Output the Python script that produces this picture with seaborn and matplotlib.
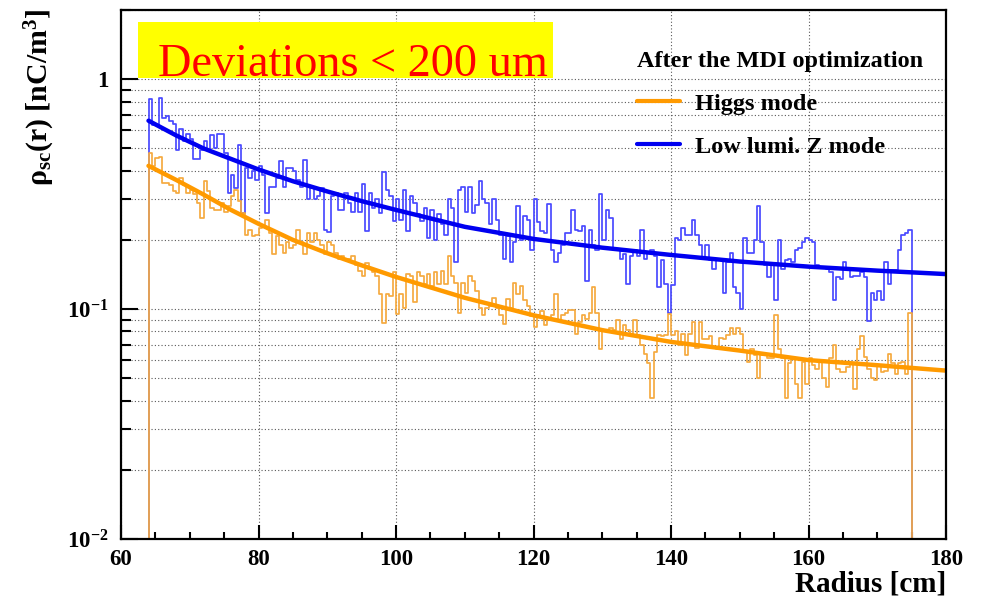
import numpy as np
import matplotlib
matplotlib.use("Agg")
import matplotlib.pyplot as plt
import seaborn as sns
from matplotlib.lines import Line2D
from matplotlib.patches import Rectangle
from matplotlib.ticker import MultipleLocator, FixedLocator, LogLocator, NullFormatter

# ---------------- data ----------------
bin_lo = 64.0
bin_width = 0.5

z_mode = [
    0.82, 0.63, 0.63, 0.83, 0.68, 0.69, 0.66, 0.64, 0.49, 0.61,
    0.54, 0.58, 0.55, 0.45, 0.45, 0.49, 0.54, 0.49, 0.57, 0.50,
    0.58, 0.58, 0.48, 0.32, 0.385, 0.335, 0.52, 0.262, 0.41, 0.37,
    0.40, 0.365, 0.42, 0.385, 0.262, 0.34, 0.34, 0.37, 0.44, 0.34,
    0.41, 0.41, 0.40, 0.365, 0.34, 0.445, 0.30, 0.335, 0.30, 0.31,
    0.335, 0.22, 0.217, 0.31, 0.32, 0.27, 0.27, 0.32, 0.29, 0.265,
    0.32, 0.265, 0.35, 0.218, 0.32, 0.275, 0.30, 0.262, 0.395, 0.33,
    0.31, 0.241, 0.30, 0.245, 0.33, 0.218, 0.31, 0.29, 0.258, 0.241,
    0.275, 0.204, 0.27, 0.199, 0.258, 0.235, 0.21, 0.30, 0.275, 0.16,
    0.33, 0.34, 0.265, 0.34, 0.262, 0.285, 0.36, 0.30, 0.29, 0.235,
    0.30, 0.245, 0.21, 0.165, 0.207, 0.16, 0.195, 0.28, 0.20, 0.255,
    0.245, 0.18, 0.30, 0.24, 0.218, 0.215, 0.286, 0.18, 0.16, 0.175,
    0.19, 0.215, 0.215, 0.27, 0.22, 0.218, 0.23, 0.132, 0.22, 0.19,
    0.18, 0.316, 0.20, 0.27, 0.25, 0.18, 0.18, 0.165, 0.173, 0.128,
    0.17, 0.18, 0.17, 0.22, 0.165, 0.175, 0.18, 0.17, 0.125, 0.163,
    0.128, 0.096, 0.127, 0.204, 0.20, 0.225, 0.21, 0.21, 0.245, 0.21,
    0.19, 0.165, 0.19, 0.163, 0.15, 0.163, 0.163, 0.118, 0.16, 0.175,
    0.125, 0.118, 0.10, 0.204, 0.175, 0.175, 0.199, 0.28, 0.195, 0.155,
    0.138, 0.158, 0.11, 0.20, 0.15, 0.163, 0.165, 0.16, 0.18, 0.185,
    0.195, 0.204, 0.20, 0.195, 0.155, 0.153, 0.153, 0.15, 0.145, 0.11,
    0.138, 0.135, 0.16, 0.148, 0.138, 0.14, 0.14, 0.145, 0.138, 0.089,
    0.118, 0.11, 0.12, 0.11, 0.16, 0.128, 0.148, 0.148, 0.18, 0.21,
    0.215, 0.22,
]

higgs_mode = [
    0.48, 0.42, 0.455, 0.46, 0.355, 0.355, 0.345, 0.325, 0.32, 0.37,
    0.345, 0.32, 0.33, 0.316, 0.29, 0.25, 0.36, 0.325, 0.275, 0.27,
    0.27, 0.29, 0.265, 0.28, 0.31, 0.33, 0.295, 0.262, 0.21, 0.22,
    0.207, 0.21, 0.225, 0.23, 0.245, 0.215, 0.173, 0.207, 0.19, 0.175,
    0.195, 0.185, 0.19, 0.22, 0.195, 0.173, 0.215, 0.195, 0.215, 0.20,
    0.19, 0.173, 0.195, 0.19, 0.175, 0.165, 0.17, 0.165, 0.165, 0.17,
    0.155, 0.146, 0.14, 0.158, 0.15, 0.145, 0.14, 0.116, 0.087, 0.116,
    0.114, 0.145, 0.095, 0.116, 0.101, 0.142, 0.14, 0.107, 0.145, 0.14,
    0.128, 0.142, 0.126, 0.145, 0.128, 0.146, 0.128, 0.17, 0.14, 0.13,
    0.096, 0.13, 0.118, 0.14, 0.132, 0.12, 0.101, 0.094, 0.101, 0.103,
    0.112, 0.101, 0.094, 0.086, 0.111, 0.101, 0.13, 0.116, 0.126, 0.109,
    0.103, 0.093, 0.084, 0.094, 0.098, 0.085, 0.091, 0.094, 0.116, 0.09,
    0.094, 0.096, 0.099, 0.099, 0.078, 0.088, 0.094, 0.091, 0.096, 0.125,
    0.096, 0.067, 0.081, 0.081, 0.083, 0.081, 0.09, 0.074, 0.085, 0.081,
    0.078, 0.09, 0.077, 0.07, 0.064, 0.058, 0.041, 0.065, 0.077, 0.076,
    0.077, 0.095, 0.077, 0.08, 0.07, 0.078, 0.063, 0.078, 0.088, 0.068,
    0.088, 0.074, 0.074, 0.076, 0.068, 0.067, 0.075, 0.074, 0.077, 0.083,
    0.078, 0.083, 0.078, 0.065, 0.059, 0.067, 0.063, 0.05, 0.063, 0.064,
    0.061, 0.061, 0.094, 0.067, 0.061, 0.041, 0.058, 0.061, 0.047, 0.041,
    0.059, 0.047, 0.061, 0.057, 0.055, 0.06, 0.05, 0.046, 0.061, 0.07,
    0.055, 0.053, 0.053, 0.056, 0.058, 0.045, 0.067, 0.076, 0.062, 0.055,
    0.05, 0.049, 0.057, 0.053, 0.054, 0.064, 0.058, 0.052, 0.058, 0.059,
    0.052, 0.096,
]

fit_r = [64, 68, 72, 76, 80, 85, 90, 95, 100, 110, 120, 130, 140, 150, 160, 170, 180]
fit_z = [0.66, 0.57, 0.50, 0.45, 0.405, 0.36, 0.325, 0.295, 0.27, 0.228, 0.202,
         0.185, 0.172, 0.161, 0.153, 0.147, 0.142]
fit_higgs = [0.42, 0.365, 0.315, 0.27, 0.235, 0.20, 0.175, 0.155, 0.138, 0.112,
             0.094, 0.081, 0.072, 0.066, 0.060, 0.057, 0.054]

legend_title = "After the MDI optimization"
label_higgs = "Higgs mode"
label_z = "Low lumi. Z mode"
banner = "Deviations < 200 um"
x_ticks = [60, 80, 100, 120, 140, 160, 180]
y_ticks = [0.01, 0.1, 1]
y_ticklabels = [r"$\mathbf{10^{-2}}$", r"$\mathbf{10^{-1}}$", "1"]

# ---------------- style ----------------
sns.set_style("ticks")
plt.rcParams["font.family"] = ["Liberation Serif", "DejaVu Serif"]
plt.rcParams["mathtext.fontset"] = "custom"
plt.rcParams["mathtext.rm"] = "Liberation Serif"
plt.rcParams["mathtext.bf"] = "Liberation Serif:bold"
plt.rcParams["mathtext.it"] = "Liberation Serif:italic"
for key in ["text.color", "axes.labelcolor", "xtick.color", "ytick.color",
            "axes.edgecolor"]:
    plt.rcParams[key] = "black"

fig = plt.figure(figsize=(9.87, 5.97), dpi=100)
ax = fig.add_axes([0.1226, 0.0972, 0.836, 0.886])

HIST_BLUE = "#4a4aff"
HIST_ORANGE = "#f5aa40"
FIT_BLUE = "#0000f0"
FIT_ORANGE = "#ff9a00"


def draw_hist(values, color):
    # step outline of a histogram; empty bins outside the range drop to the floor
    n = len(values)
    edges = bin_lo + bin_width * np.arange(-1, n + 2)
    heights = np.concatenate([[0.0], np.asarray(values, float), [0.0]])
    y = np.append(heights, heights[-1])
    sns.lineplot(x=edges, y=y, drawstyle="steps-post", color=color,
                 linewidth=1.25, estimator=None, sort=False, ax=ax, legend=False)


draw_hist(z_mode, HIST_BLUE)
draw_hist(higgs_mode, HIST_ORANGE)
sns.lineplot(x=fit_r, y=fit_higgs, color=FIT_ORANGE, linewidth=3.2, ax=ax, legend=False)
sns.lineplot(x=fit_r, y=fit_z, color=FIT_BLUE, linewidth=3.2, ax=ax, legend=False)

ax.set_yscale("log")
ax.set_xlim(60, 180)
ax.set_ylim(0.01, 2)
ax.set_xlabel("")
ax.set_ylabel("")

ax.xaxis.set_major_locator(FixedLocator(x_ticks))
ax.xaxis.set_minor_locator(MultipleLocator(5))
ax.set_xticklabels([str(t) for t in x_ticks])
ax.yaxis.set_major_locator(FixedLocator(y_ticks))
ax.set_yticklabels(y_ticklabels)
ax.yaxis.set_minor_locator(LogLocator(base=10, subs=np.arange(2, 10)))
ax.yaxis.set_minor_formatter(NullFormatter())

for lab in ax.get_xticklabels() + ax.get_yticklabels():
    lab.set_fontweight("bold")
    lab.set_fontsize(16.5)
    lab.set_color("black")

ax.tick_params(axis="both", which="both", direction="in", width=1.5, colors="black",
               top=False, right=False)
ax.tick_params(axis="x", which="major", length=10, pad=7)
ax.tick_params(axis="x", which="minor", length=5)
ax.tick_params(axis="y", which="major", length=12, pad=9)
ax.tick_params(axis="y", which="minor", length=7)

for sp in ax.spines.values():
    sp.set_visible(True)
    sp.set_linewidth(1.6)
    sp.set_color("black")

grid_kw = dict(color="0.35", linestyle=(0, (1, 2)), linewidth=0.8)
ax.grid(True, which="major", axis="x", **grid_kw)
ax.grid(True, which="both", axis="y", **grid_kw)
ax.set_axisbelow(True)

# legend
handles = [Line2D([], [], color=FIT_ORANGE, linewidth=3),
           Line2D([], [], color=FIT_BLUE, linewidth=3)]
leg = ax.legend(handles, [label_higgs, label_z], title=legend_title,
                loc="upper left", bbox_to_anchor=(637 / 987, 1 - 51 / 597),
                bbox_transform=fig.transFigure, frameon=False,
                prop={"weight": "bold", "size": 17.5},
                title_fontproperties={"weight": "bold", "size": 17.5},
                handlelength=1.75, handletextpad=0.62, labelspacing=0.86,
                borderpad=0, borderaxespad=0, alignment="left")
for t in leg.get_texts():
    t.set_color("black")
leg.get_title().set_color("black")

# banner
fig.add_artist(Rectangle((138 / 987, 1 - 78 / 597), 415 / 987, 56 / 597,
                         transform=fig.transFigure, facecolor="#ffff00",
                         edgecolor="none", zorder=5))
fig.text(158 / 987, 1 - 76 / 597, banner, color="#ff0000", fontsize=33.3,
         ha="left", va="baseline", zorder=6)

# axis titles
fig.text(40 / 987, 1 - 9 / 597, r"ρ$_{\mathbf{sc}}$(r) [nC/m$^{\mathbf{3}}$]", rotation=90,
         ha="center", va="top", fontsize=21.5, fontweight="bold")
fig.text(946 / 987, 1 - 584 / 597, "Radius [cm]", ha="right", va="center",
         fontsize=21, fontweight="bold")

fig.savefig("out.png", dpi=100)
